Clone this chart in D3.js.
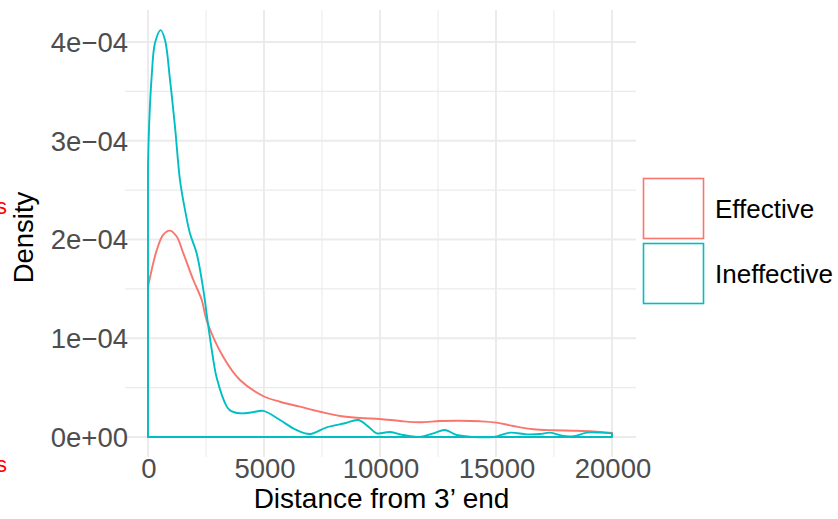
<!DOCTYPE html>
<html>
<head>
<meta charset="utf-8">
<script src="https://cdn.jsdelivr.net/npm/d3@7"></script>
<style>
  html, body { margin: 0; padding: 0; background: #fff; }
  svg { display: block; font-family: "Liberation Sans", Arial, Helvetica, sans-serif; }
</style>
</head>
<body>
<svg id="chart" width="838" height="519"></svg>
<script>
// ---- data ----
const groups = ["Effective", "Ineffective"];
const groupColors = ["#F8766D", "#00BFC4"];

const effectiveX = [0, 374, 661, 948, 1236, 1523, 1954, 2313, 2530, 3246, 3966, 5000, 5690, 6552, 7414, 8276, 9138, 10000, 10862, 11724, 12586, 13448, 14310, 15029, 15747, 16609, 17471, 18333, 19195, 20000];
const effectiveY = [1.52, 1.89, 2.05, 2.09, 2.03, 1.86, 1.59, 1.39, 1.18, 0.81, 0.577, 0.41, 0.357, 0.307, 0.256, 0.213, 0.192, 0.182, 0.162, 0.149, 0.162, 0.165, 0.159, 0.145, 0.111, 0.078, 0.068, 0.064, 0.057, 0.042];

const ineffectiveX = [0, 57, 158, 302, 546, 733, 948, 1164, 1379, 1595, 1810, 2098, 2385, 2600, 2816, 2960, 3391, 3534, 3966, 4500, 4970, 5690, 6336, 6983, 7701, 8491, 9066, 9497, 9856, 10431, 11005, 11724, 12298, 12802, 13305, 14023, 14885, 15603, 16322, 16897, 17328, 17902, 18333, 18908, 19483, 20000];
const ineffectiveY = [2.74, 3.21, 3.65, 3.99, 4.12, 4.02, 3.62, 3.14, 2.60, 2.30, 2.06, 1.86, 1.49, 1.12, 0.78, 0.60, 0.31, 0.27, 0.24, 0.25, 0.265, 0.172, 0.078, 0.03, 0.098, 0.139, 0.172, 0.105, 0.037, 0.051, 0.02, 0.0, 0.037, 0.071, 0.02, 0.0, 0.0, 0.044, 0.027, 0.03, 0.044, 0.01, 0.007, 0.044, 0.044, 0.037];
const yUnit = 1e-4; // y values above are in units of 1e-04

const xTicks = [0, 5000, 10000, 15000, 20000];
const xTickLabels = ["0", "5000", "10000", "15000", "20000"];
const xMinor = [2500, 7500, 12500, 17500];
const yTicks = [0, 1e-4, 2e-4, 3e-4, 4e-4];
const yTickLabels = ["0e+00", "1e\u221204", "2e\u221204", "3e\u221204", "4e\u221204"];
const yMinor = [0.5e-4, 1.5e-4, 2.5e-4, 3.5e-4];
const xTitle = "Distance from 3\u2019 end";
const yTitle = "Density";

// ---- layout ----
const svg = d3.select("#chart");
const panel = { left: 125, right: 636, top: 10, bottom: 457 };

const x = d3.scaleLinear().domain([0, 20000]).range([148, 612]);
const y = d3.scaleLinear().domain([0, 4e-4]).range([437, 42]);

// gridlines
const grid = svg.append("g");
grid.selectAll(".ymin").data(yMinor).join("line")
  .attr("x1", panel.left).attr("x2", panel.right)
  .attr("y1", d => y(d)).attr("y2", d => y(d))
  .attr("stroke", "#EBEBEB").attr("stroke-width", 1.1);
grid.selectAll(".xmin").data(xMinor).join("line")
  .attr("y1", panel.top).attr("y2", panel.bottom)
  .attr("x1", d => x(d)).attr("x2", d => x(d))
  .attr("stroke", "#EBEBEB").attr("stroke-width", 1.1);
grid.selectAll(".ymaj").data(yTicks).join("line")
  .attr("x1", panel.left).attr("x2", panel.right)
  .attr("y1", d => y(d)).attr("y2", d => y(d))
  .attr("stroke", "#EBEBEB").attr("stroke-width", 1.9);
grid.selectAll(".xmaj").data(xTicks).join("line")
  .attr("y1", panel.top).attr("y2", panel.bottom)
  .attr("x1", d => x(d)).attr("x2", d => x(d))
  .attr("stroke", "#EBEBEB").attr("stroke-width", 1.9);

// density polygons
const series = [
  { name: groups[0], color: groupColors[0], xs: effectiveX, ys: effectiveY },
  { name: groups[1], color: groupColors[1], xs: ineffectiveX, ys: ineffectiveY }
];
const line = d3.line().x(d => x(d[0])).y(d => Math.min(y(d[1]), y(0)))
  .curve(d3.curveCatmullRom.alpha(0.5));
series.forEach(s => {
  const pts = s.xs.map((v, i) => [v, s.ys[i] * yUnit]);
  const first = pts[0], last = pts[pts.length - 1];
  const curve = line(pts);
  const path = `M${x(first[0])},${y(0)}L` + curve.slice(1) +
    `L${x(last[0])},${y(0)}Z`;
  svg.append("path").attr("d", path)
    .attr("fill", "none").attr("stroke", s.color)
    .attr("stroke-width", 1.9).attr("stroke-linejoin", "round");
});

// axis tick labels
const tickFont = 27.5;
svg.append("g").selectAll("text").data(yTicks).join("text")
  .attr("x", 128).attr("y", d => y(d)).attr("dy", "0.36em")
  .attr("text-anchor", "end").attr("font-size", tickFont).attr("fill", "#4D4D4D")
  .text((d, i) => yTickLabels[i]);
svg.append("g").selectAll("text").data(xTicks).join("text")
  .attr("x", d => x(d) + 1).attr("y", 478)
  .attr("text-anchor", "middle").attr("font-size", tickFont).attr("fill", "#4D4D4D")
  .text((d, i) => xTickLabels[i]);

// axis titles
svg.append("text").attr("x", (panel.left + panel.right) / 2 + 1).attr("y", 508)
  .attr("text-anchor", "middle").attr("font-size", 28).attr("fill", "#000")
  .text(xTitle);
svg.append("text").attr("transform", `translate(33,${(panel.top + panel.bottom) / 2 + 4}) rotate(-90)`)
  .attr("text-anchor", "middle").attr("font-size", 27.5).attr("fill", "#000")
  .text(yTitle);

// red labels at far left, clipped by the page edge as in the reference
svg.append("text").attr("x", 7).attr("y", 214).attr("text-anchor", "end")
  .attr("font-size", 22).attr("fill", "#FF0000").text("s");
svg.append("text").attr("x", 7).attr("y", 472).attr("text-anchor", "end")
  .attr("font-size", 22).attr("fill", "#FF0000").text("s");

// legend
const legend = svg.append("g");
groups.forEach((g, i) => {
  const top = 178 + i * 65;
  legend.append("rect").attr("x", 643.5).attr("y", top + 0.5)
    .attr("width", 60).attr("height", 60)
    .attr("fill", "none").attr("stroke", groupColors[i]).attr("stroke-width", 1.6);
  legend.append("text").attr("x", 715).attr("y", top + 31).attr("dy", "0.36em")
    .attr("font-size", 26).attr("fill", "#000").text(g);
});
</script>
</body>
</html>
